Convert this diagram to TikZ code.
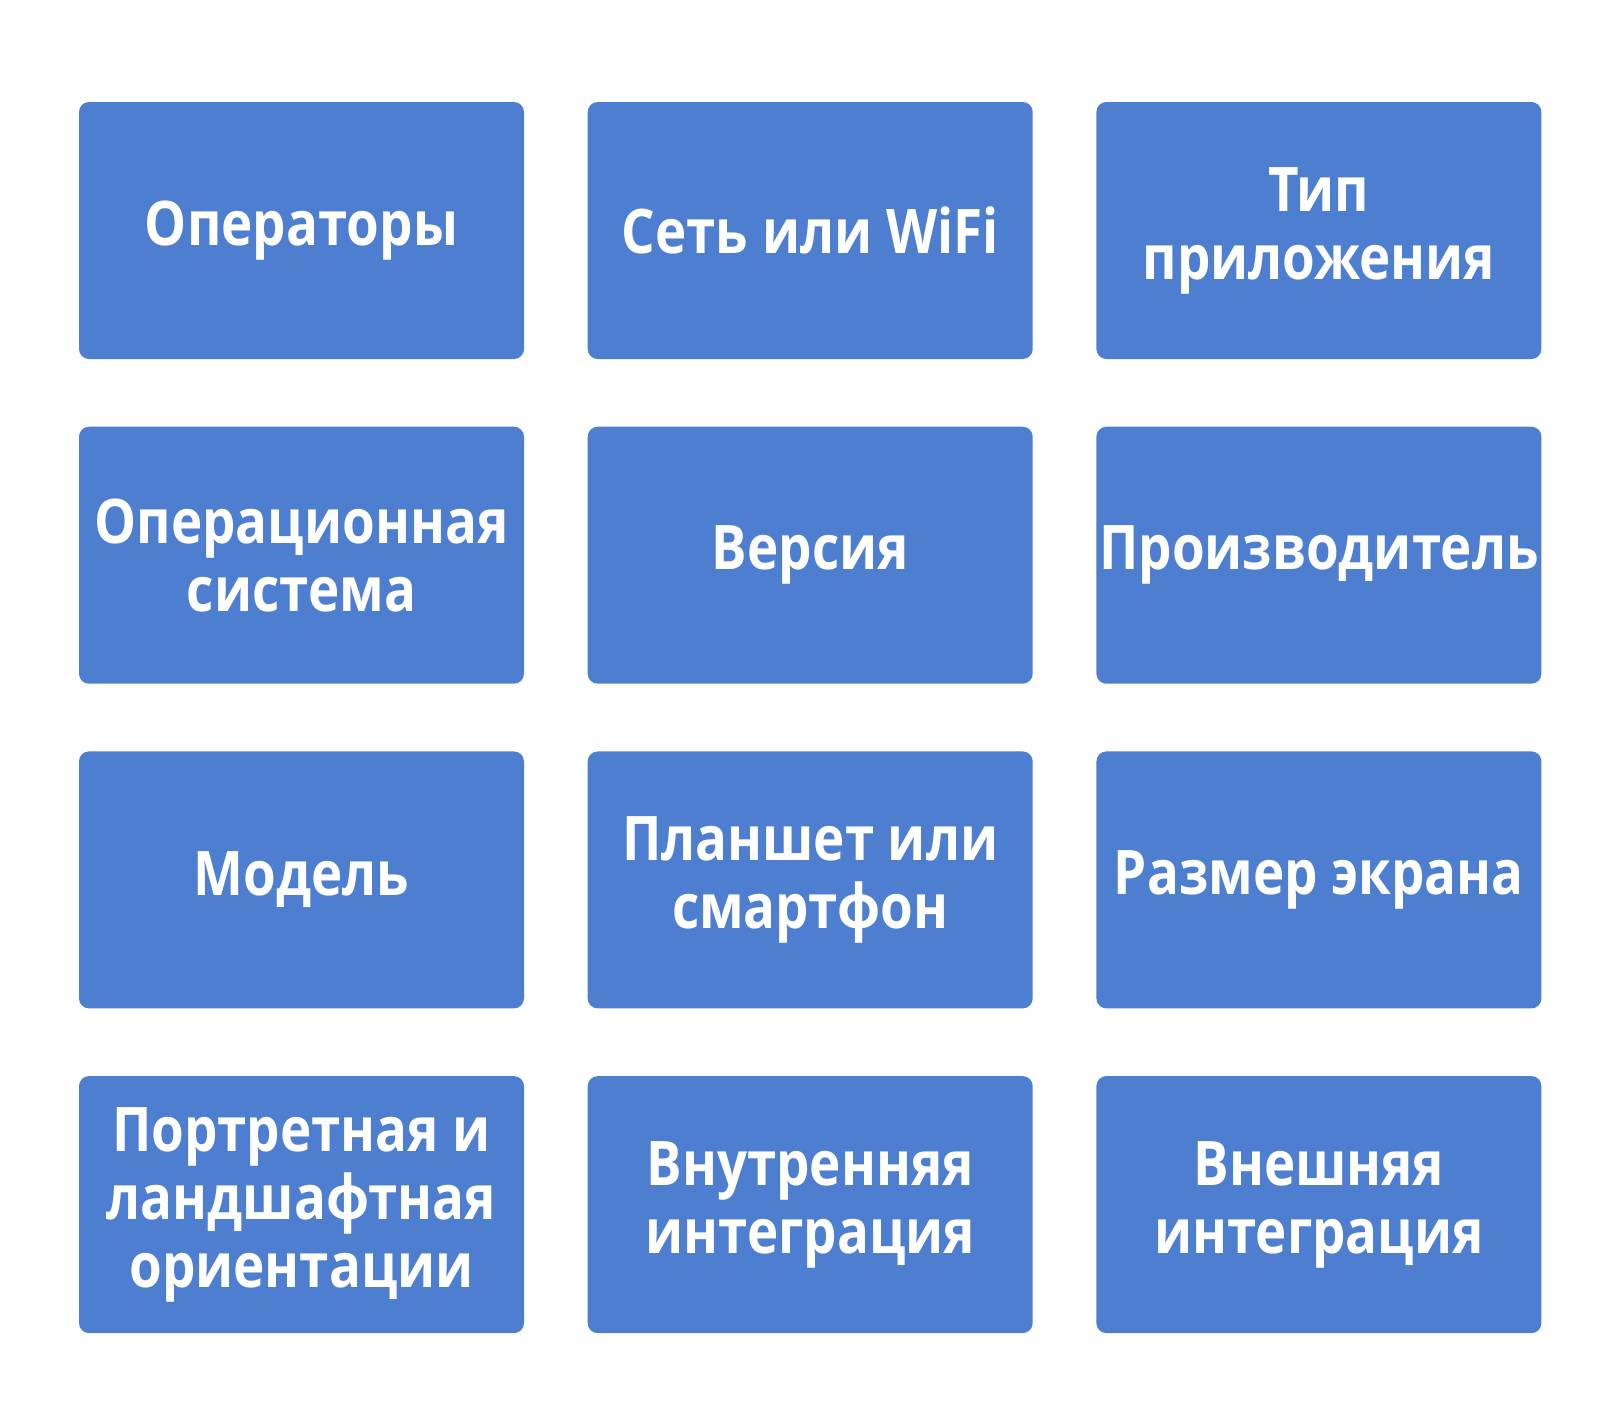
\documentclass[tikz,border=0pt]{standalone}
\usepackage{fontspec}
\setmainfont[FakeStretch=0.86]{Open Sans}
\usetikzlibrary{positioning}
\definecolor{boxblue}{HTML}{4D7ECF}
\tikzset{
  feature/.style={fill=boxblue, draw=none, rounded corners=0.2cm,
    minimum width=8.9cm, minimum height=5.14cm, inner sep=0pt,
    text=white, align=center, font=\fontsize{35}{38.7}\selectfont\bfseries}
}
\begin{document}
\begin{tikzpicture}[node distance=1.34cm and 1.26cm]
    \useasboundingbox (0,0) rectangle (32.24,-28.48);
    % first row
    \node[feature] (oper) at (6.03,-4.61) {Операторы};
    \node[feature, right=of oper] (net) {Сеть или WiFi};
    \node[feature, right=of net] (apptype) {Тип\\приложения};
    % second row
    \node[feature, below=of oper] (os) {Операционная\\система};
    \node[feature, right=of os] (ver) {Версия};
    \node[feature, right=of ver] (vendor) {Производитель};
    % third row
    \node[feature, below=of os] (model) {Модель};
    \node[feature, right=of model] (tablet) {Планшет или\\смартфон};
    \node[feature, right=of tablet] (screen) {Размер экрана};
    % fourth row
    \node[feature, below=of model] (orient) {Портретная и\\ландшафтная\\ориентации};
    \node[feature, right=of orient] (inner) {Внутренняя\\интеграция};
    \node[feature, right=of inner] (outer) {Внешняя\\интеграция};
\end{tikzpicture}
\end{document}
